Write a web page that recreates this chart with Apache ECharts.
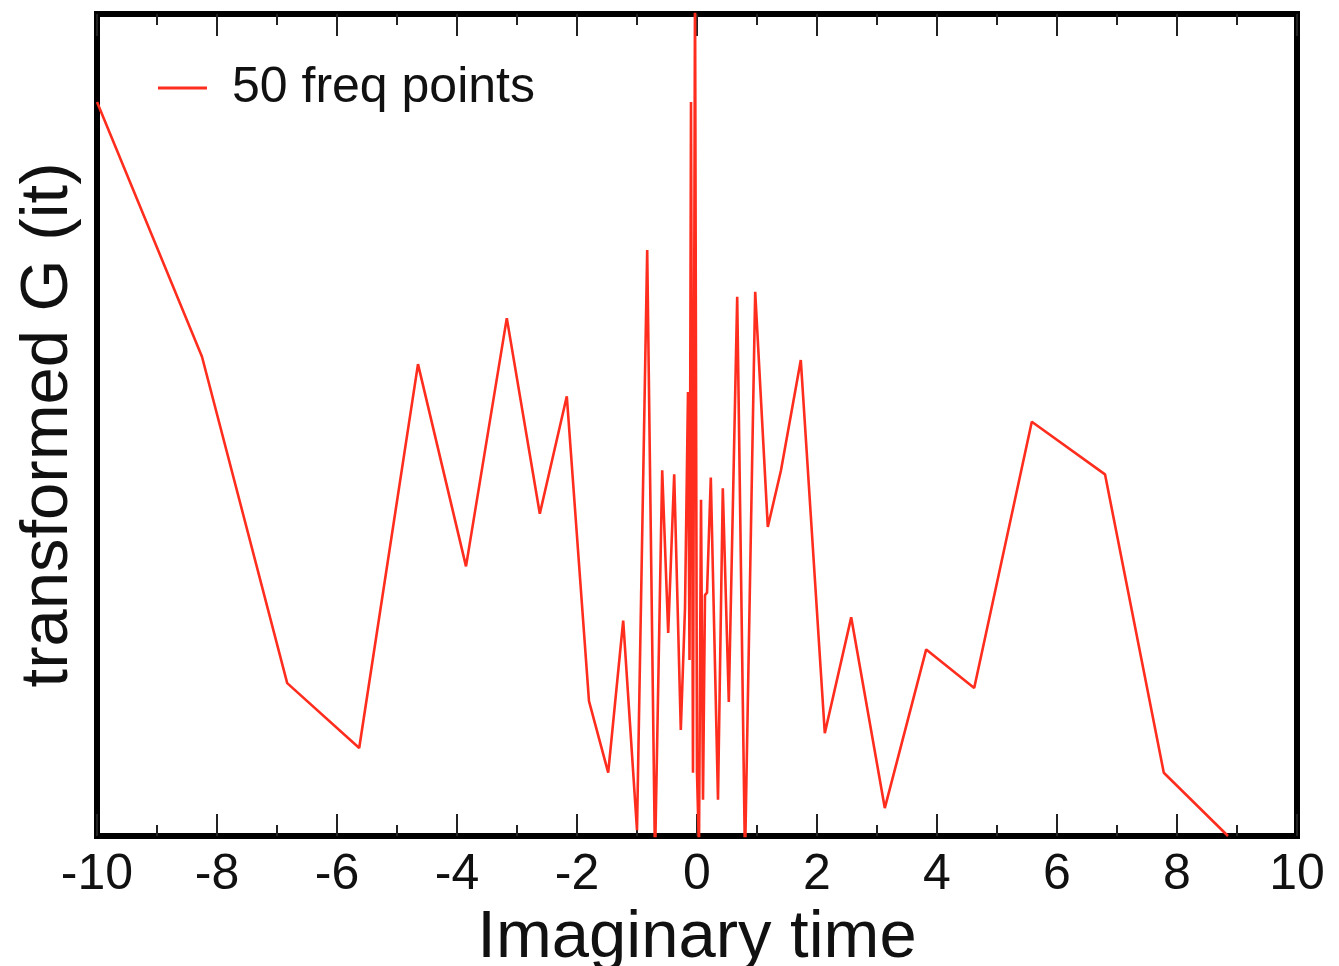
<!DOCTYPE html>
<html>
<head>
<meta charset="utf-8">
<script src="https://cdn.jsdelivr.net/npm/echarts@6/dist/echarts.min.js"></script>
<style>
html,body{margin:0;padding:0;background:#fff;}
#chart{width:1339px;height:966px;}
</style>
</head>
<body>
<div id="chart"></div>
<script>
// Imaginary time values (x)
const tau = [-10.0, -8.25, -6.83, -5.63, -4.65, -3.85, -3.17, -2.62, -2.17, -1.80,
  -1.48, -1.23, -1.00, -0.83, -0.70, -0.58, -0.48, -0.38, -0.27, -0.20,
  -0.15, -0.125, -0.10, -0.067, -0.033, 0.0, 0.033, 0.067, 0.10, 0.133,
  0.167, 0.23, 0.35, 0.43, 0.53, 0.67, 0.80, 0.97, 1.18, 1.40,
  1.73, 2.13, 2.57, 3.13, 3.82, 4.62, 5.58, 6.80, 7.78, 8.85];
// transformed G (arbitrary units, 0 = bottom of frame, 1 = top of frame)
const gValues = [0.893, 0.583, 0.186, 0.107, 0.574, 0.328, 0.630, 0.392, 0.535, 0.164,
  0.077, 0.262, 0.007, 0.713, -0.029, 0.445, 0.247, 0.440, 0.129, 0.277,
  0.540, 0.214, 0.893, 0.077, 1.041, 0.077, -0.017, 0.409, 0.044, 0.293,
  0.296, 0.436, 0.044, 0.423, 0.163, 0.656, -0.029, 0.662, 0.376, 0.445,
  0.579, 0.125, 0.266, 0.034, 0.227, 0.180, 0.504, 0.440, 0.077, 0.000];
const xTicks = [-10, -8, -6, -4, -2, 0, 2, 4, 6, 8, 10];
const seriesName = '50 freq points';

const data = tau.map((t, i) => [t, gValues[i]]);
const font = 'Liberation Sans, Arial, Helvetica, sans-serif';
const red = '#ff2d1e';

const chart = echarts.init(document.getElementById('chart'), null, {renderer: 'canvas'});
const tickStyle = {color: '#222', width: 2};
chart.setOption({
  animation: false,
  backgroundColor: '#ffffff',
  grid: {left: 97, right: 42, top: 14, bottom: 130, show: true, borderWidth: 6, borderColor: '#000',
    backgroundColor: 'transparent', containLabel: false, outerBoundsMode: 'none'},
  legend: {
    left: 153, top: 58,
    itemWidth: 49, itemHeight: 3,
    data: [{name: seriesName, icon: 'rect', itemStyle: {color: red}}],
    textStyle: {fontFamily: font, fontSize: 50, color: '#111', padding: [0, 0, 0, 20]}
  },
  xAxis: [{
    type: 'value', min: -10, max: 10, interval: 2,
    position: 'bottom',
    axisLine: {show: false},
    axisTick: {show: true, inside: true, length: 22, lineStyle: tickStyle},
    minorTick: {show: true, splitNumber: 2, length: 11, lineStyle: tickStyle},
    splitLine: {show: false},
    axisLabel: {fontFamily: font, fontSize: 50, color: '#111', margin: 14,
      formatter: v => xTicks.includes(v) ? String(v) : ''},
    name: 'Imaginary time', nameLocation: 'middle', nameGap: 55,
    nameTextStyle: {fontFamily: font, fontSize: 67, color: '#111'}
  }, {
    type: 'value', min: -10, max: 10, interval: 2,
    position: 'top',
    axisLine: {show: false},
    axisTick: {show: true, inside: true, length: 22, lineStyle: tickStyle},
    minorTick: {show: true, splitNumber: 2, length: 11, lineStyle: tickStyle},
    splitLine: {show: false},
    axisLabel: {show: false}
  }],
  yAxis: {
    type: 'value', min: 0, max: 1,
    axisLine: {show: false}, axisTick: {show: false}, axisLabel: {show: false},
    splitLine: {show: false},
    name: 'transformed G (it)', nameLocation: 'middle', nameGap: 15, nameRotate: 90,
    nameTextStyle: {fontFamily: font, fontSize: 67, color: '#111'}
  },
  series: [{
    name: seriesName,
    type: 'line',
    xAxisIndex: 0,
    data: data,
    showSymbol: false,
    symbol: 'none',
    clip: true,
    lineStyle: {color: red, width: 2.6},
    itemStyle: {color: red}
  }]
});
</script>
</body>
</html>
